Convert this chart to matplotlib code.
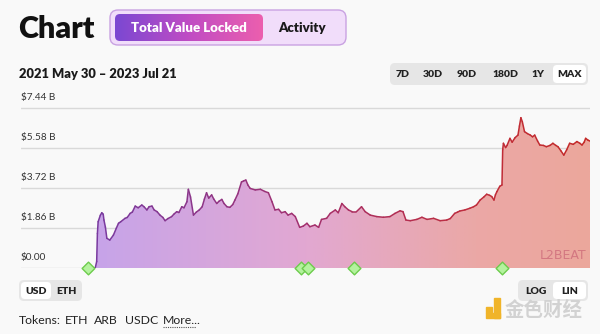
import numpy as np
import matplotlib.pyplot as plt
from matplotlib.colors import LinearSegmentedColormap
from matplotlib.collections import LineCollection
from matplotlib.patches import FancyBboxPatch

plt.rcParams['font.family'] = ['Lato', 'DejaVu Sans']

# total value locked, billions USD; day = days since 2021-05-30
day = [92, 102, 104, 105, 106, 109, 111, 113, 114, 116, 118, 122, 127, 131, 134, 137,
       143, 146, 150, 153, 157, 161, 166, 169, 173, 176, 180, 183, 187, 191, 195, 198,
       202, 207, 210, 214, 217, 221, 224, 228, 230, 233, 237, 241, 245, 249, 252, 255,
       258, 262, 265, 269, 272, 276, 279, 283, 287, 291, 294, 298, 303, 306, 309, 312,
       315, 322, 329, 335, 340, 345, 349, 354, 358, 363, 367, 372, 377, 383, 388, 393,
       397, 404, 409, 413, 420, 425, 432, 436, 441, 445, 450, 455, 461, 468, 473, 480,
       489, 498, 507, 514, 521, 525, 529, 535, 544, 551, 558, 567, 576, 585,
       590, 596, 600, 603, 610, 617, 622, 626, 631, 636, 640, 644, 647, 650, 652, 654,
       658, 661, 662, 663, 666, 668, 672, 675, 679, 683, 685, 687, 689, 692, 696, 700,
       703, 706, 710, 713, 718, 722, 727, 731, 735, 738, 742, 746, 750, 754, 759, 764,
       768, 771, 774, 776, 779, 782]
tvl = [0.0, 0.0, 0.3, 1.6, 2.15, 2.45, 2.57, 2.5, 2.23, 1.9, 1.38, 1.3, 1.53, 1.85, 2.08, 2.15,
       2.31, 2.35, 2.54, 2.6, 2.88, 2.8, 2.93, 2.85, 2.7, 2.85, 2.88, 2.7, 2.62, 2.46, 2.35, 2.2,
       2.3, 2.39, 2.5, 2.62, 2.58, 2.85, 2.8, 3.08, 3.66, 3.3, 2.46, 2.6, 2.7, 2.85, 3.2, 3.5,
       3.25, 3.4, 3.2, 3.0, 3.1, 3.19, 3.0, 2.85, 2.82, 2.95, 3.16, 3.45, 4.0, 4.05, 4.09, 3.85,
       3.7, 3.63, 3.66, 3.56, 3.5, 3.08, 2.7, 2.73, 2.57, 2.62, 2.46, 2.54, 2.39, 1.89, 1.95, 2.08,
       1.92, 2.0, 1.89, 2.26, 2.31, 2.54, 2.7, 2.57, 3.0, 2.85, 2.7, 2.62, 2.62, 2.85, 2.62, 2.46,
       2.39, 2.36, 2.39, 2.54, 2.66, 2.62, 2.23, 2.2, 2.26, 2.36, 2.26, 2.31, 2.2, 2.23,
       2.3, 2.54, 2.6, 2.65, 2.7, 2.78, 2.85, 2.93, 3.16, 3.3, 3.43, 3.38, 3.32, 3.16, 3.4, 3.55,
       3.8, 3.86, 5.5, 5.8, 5.6, 5.7, 6.03, 5.85, 6.06, 6.18, 6.6, 6.99, 6.8, 6.34, 6.25, 6.18,
       6.1, 6.18, 5.9, 5.72, 5.7, 5.64, 5.7, 5.8, 5.7, 5.64, 5.45, 5.25, 5.5, 5.8, 5.75, 5.88,
       5.8, 5.72, 5.85, 6.03, 5.95, 5.9]
event_day = [92, 385, 394, 458, 661]
ticks = [0.0, 1.86, 3.72, 5.58, 7.44]
tick_labels = ['$0.00', '$1.86 B', '$3.72 B', '$5.58 B', '$7.44 B']
ranges = ['7D', '30D', '90D', '180D', '1Y', 'MAX']
tokens = ['ETH', 'ARB', 'USDC']

BG = '#f9f9f9'
W, H = 600, 334
x0, x1 = 0, 782
ymax = 7.44 * 168 / 160

fig = plt.figure(figsize=(6, 3.34), dpi=100, facecolor=BG)

# overlay in pixel coordinates for the page controls
ui = fig.add_axes([0, 0, 1, 1], zorder=0)
ui.set_xlim(0, W)
ui.set_ylim(H, 0)
ui.axis('off')


def pill(x, y, w, h, fc, ec='none', r=6, lw=1):
    p = FancyBboxPatch((x, y), w, h, boxstyle=f'round,pad=0,rounding_size={r}',
                       fc=fc, ec=ec, lw=lw)
    ui.add_patch(p)
    return p


ui.text(18, 29, 'Chart', fontsize=22, fontweight='heavy', color='#111111', va='center')
pill(110, 10, 236, 35, '#f1ddfa', ec='#c9a2e2', r=8)
btn = pill(115, 14, 148, 27, 'none', r=5)
grad = np.linspace(0, 1, 256).reshape(1, -1)
btn_cmap = LinearSegmentedColormap.from_list('btn', ['#7b48d2', '#c04cc4', '#ec5fae'])
im = ui.imshow(grad, extent=(115, 263, 41, 14), cmap=btn_cmap, aspect='auto', zorder=2)
im.set_clip_path(btn)
ui.text(189, 28, 'Total Value Locked', fontsize=9.5, fontweight='heavy', color='white',
        ha='center', va='center', zorder=3)
ui.text(302, 28, 'Activity', fontsize=9.5, fontweight='heavy', color='#1a1a1a',
        ha='center', va='center')

ui.text(19, 74, '2021 May 30 – 2023 Jul 21', fontsize=9.3, fontweight='heavy',
        color='#1a1a1a', va='center')

pill(390, 63, 198, 22, '#e6e6e6', r=5)
pill(553, 65, 33, 18, '#ffffff', r=4)
for label, cx in zip(ranges, [403, 433, 467, 505, 538, 569]):
    ui.text(cx, 74.5, label, fontsize=7.5, fontweight='heavy', color='#222222',
            ha='center', va='center')

pill(19, 280, 63, 21, '#e6e6e6', r=5)
pill(21, 282, 30, 17, '#ffffff', r=4)
ui.text(36, 291, 'USD', fontsize=7.5, fontweight='heavy', color='#222222', ha='center', va='center')
ui.text(66, 291, 'ETH', fontsize=7.5, fontweight='heavy', color='#222222', ha='center', va='center')

pill(518, 280, 70, 21, '#e6e6e6', r=5)
pill(553, 282, 33, 17, '#ffffff', r=4)
ui.text(536, 291, 'LOG', fontsize=7.5, fontweight='heavy', color='#222222', ha='center', va='center')
ui.text(570, 291, 'LIN', fontsize=7.5, fontweight='heavy', color='#222222', ha='center', va='center')

ui.text(19, 320, 'Tokens:', fontsize=8.8, color='#222222', va='center')
for label, tx in zip(tokens, [65, 94, 125]):
    ui.text(tx, 320, label, fontsize=8.8, color='#222222', va='center')
ui.text(163, 320, 'More...', fontsize=8.8, color='#222222', va='center')
ui.plot([163, 196], [327, 327], color='#555555', lw=0.8, ls=(0, (1, 1)))

ui.add_patch(plt.Rectangle((486, 307), 6, 6, color='#f0b429'))
ui.add_patch(plt.Rectangle((494, 298), 6, 20, color='#f0b429'))
ui.add_patch(plt.Rectangle((486, 313), 14, 5, color='#f0b429'))
ui.text(505, 310, '金色财经', fontsize=14, color='#d2d2d2', va='center',
        family=['Noto Sans CJK SC', 'DejaVu Sans'], fontweight='bold')

# main chart
ax = fig.add_axes([21 / W, (H - 268) / H, 569 / W, 168 / H], zorder=1)
ax.set_facecolor('none')
ax.set_xlim(x0, x1)
ax.set_ylim(0, ymax)
ax.axis('off')

for t, lab in zip(ticks, tick_labels):
    ax.axhline(t, color='#d9d9d9', lw=1, zorder=1)
    ax.annotate(lab, (0, t), xytext=(0, 4), textcoords='offset points',
                fontsize=7.2, color='#333333', va='bottom', ha='left')

days = np.array(day, dtype=float)
vals = np.array(tvl)

fill_cmap = LinearSegmentedColormap.from_list(
    'fill', [(0, '#c2a2ea'), (0.15, '#c8a4e8'), (0.5, '#e2a8d2'), (0.8, '#eba8a6'), (1, '#eca79c')])
line_cmap = LinearSegmentedColormap.from_list(
    'line', [(0, '#6e3aa6'), (0.15, '#7a3a9e'), (0.5, '#a3306e'), (0.8, '#bf2d3c'), (1, '#c42a28')])

poly = ax.fill_between(days, 0, vals, color='none', lw=0)
fill_img = ax.imshow(grad, extent=(x0, x1, 0, ymax), cmap=fill_cmap, aspect='auto',
                     zorder=2, origin='lower')
fill_img.set_clip_path(poly.get_paths()[0], transform=ax.transData)

pts = np.column_stack([days, vals]).reshape(-1, 1, 2)
segs = np.concatenate([pts[:-1], pts[1:]], axis=1)
mid = (days[:-1] + days[1:]) / 2 / x1
lc = LineCollection(segs, colors=line_cmap(mid), lw=1.1, zorder=3, capstyle='round',
                    joinstyle='round')
ax.add_collection(lc)

ax.text(0.993, 0.035, 'L2BEAT', transform=ax.transAxes, fontsize=9, color='#c0506a',
        alpha=0.55, ha='right', va='bottom', family=['Liberation Sans Narrow', 'DejaVu Sans'])

ax.scatter(event_day, [0] * len(event_day), marker='D', s=42, color='#b4f29e',
           edgecolor='#6dcc4c', lw=1, zorder=5, clip_on=False)

fig.savefig('out.png', dpi=100, facecolor=BG)
